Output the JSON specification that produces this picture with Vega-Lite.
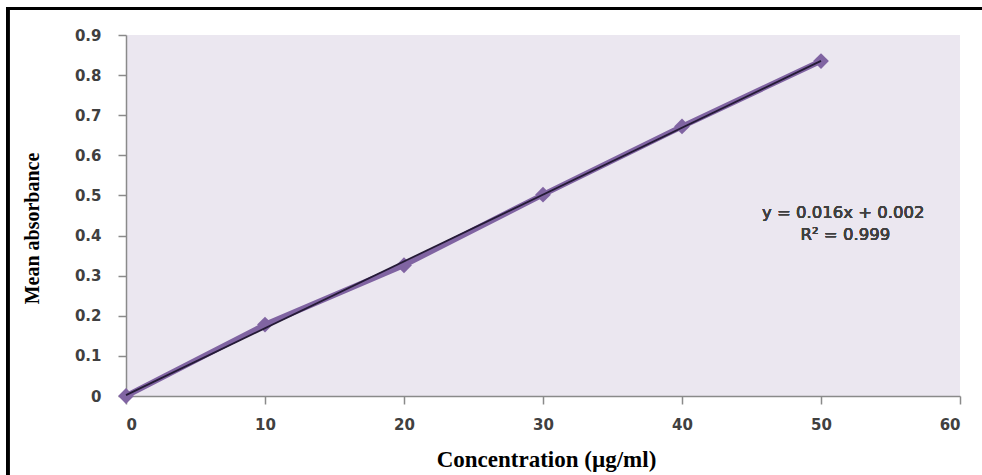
{
  "$schema": "https://vega.github.io/schema/vega-lite/v6.json",
  "width": 834,
  "height": 361,
  "autosize": {"type": "none"},
  "padding": {"left": 126, "top": 35, "right": 22, "bottom": 79},
  "background": "white",
  "config": {
    "view": {"fill": "#ebe7f0", "stroke": null},
    "axis": {
      "domainColor": "#8a8a8a",
      "domainWidth": 1.5,
      "tickColor": "#8a8a8a",
      "tickWidth": 1.5,
      "tickSize": 8,
      "grid": false,
      "labelFont": "DejaVu Sans",
      "labelFontWeight": "bold",
      "labelFontSize": 15,
      "labelColor": "#404040",
      "titleFont": "Liberation Serif",
      "titleFontWeight": "bold",
      "titleColor": "#000000"
    }
  },
  "data": {
    "values": [
      {"conc": 0, "abs": 0.0},
      {"conc": 10, "abs": 0.178},
      {"conc": 20, "abs": 0.326},
      {"conc": 30, "abs": 0.502},
      {"conc": 40, "abs": 0.672},
      {"conc": 50, "abs": 0.835}
    ]
  },
  "layer": [
    {
      "mark": {"type": "line", "color": "#8064a2", "strokeWidth": 5.5, "clip": false},
      "encoding": {
        "x": {
          "field": "conc", "type": "quantitative",
          "scale": {"domain": [0, 60], "nice": false, "zero": false},
          "axis": {
            "values": [0, 10, 20, 30, 40, 50, 60],
            "title": "Concentration  (µg/ml)",
            "titleFontSize": 23,
            "labelPadding": 13,
            "titleX": 420, "titleY": 70,
            "titleAlign": "center", "titleBaseline": "alphabetic"
          }
        },
        "y": {
          "field": "abs", "type": "quantitative",
          "scale": {"domain": [0, 0.9], "nice": false, "zero": false},
          "axis": {
            "values": [0, 0.1, 0.2, 0.3, 0.4, 0.5, 0.6, 0.7, 0.8, 0.9],
            "format": "~g",
            "title": "Mean absorbance",
            "titleFontSize": 20,
            "labelPadding": 17,
            "titleX": -94, "titleY": 193,
            "titleAngle": -90, "titleAlign": "center", "titleBaseline": "middle"
          }
        }
      }
    },
    {
      "mark": {"type": "point", "shape": "diamond", "filled": true, "size": 250, "color": "#8064a2", "opacity": 1, "clip": false},
      "encoding": {
        "x": {"field": "conc", "type": "quantitative"},
        "y": {"field": "abs", "type": "quantitative"}
      }
    },
    {
      "transform": [{"regression": "abs", "on": "conc"}],
      "mark": {"type": "line", "color": "#241a36", "strokeWidth": 1.8},
      "encoding": {
        "x": {"field": "conc", "type": "quantitative"},
        "y": {"field": "abs", "type": "quantitative"}
      }
    },
    {
      "mark": {"type": "text", "font": "DejaVu Sans", "fontSize": 16.5, "color": "#404040", "align": "center", "baseline": "middle"},
      "encoding": {
        "x": {"datum": 51.6},
        "y": {"datum": 0.456},
        "text": {"value": "y = 0.016x  + 0.002"}
      }
    },
    {
      "mark": {"type": "text", "font": "DejaVu Sans", "fontSize": 16.5, "color": "#404040", "align": "center", "baseline": "middle"},
      "encoding": {
        "x": {"datum": 51.75},
        "y": {"datum": 0.401},
        "text": {"value": "R² = 0.999"}
      }
    },
    {
      "mark": {"type": "rect", "fill": null, "stroke": "#000000", "strokeWidth": 3, "clip": false},
      "encoding": {
        "x": {"datum": -8.5},
        "x2": {"datum": 62.5},
        "y": {"datum": 0.966},
        "y2": {"datum": -0.25}
      }
    }
  ]
}
